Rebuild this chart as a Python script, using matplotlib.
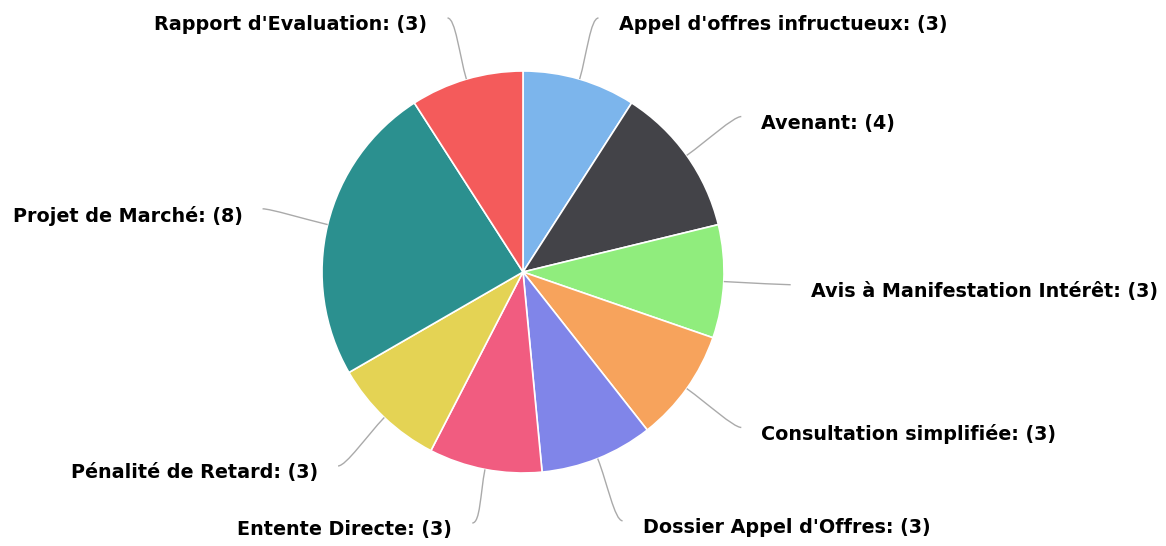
import numpy as np
from matplotlib import pyplot as plt
from matplotlib.path import Path
from matplotlib.patches import PathPatch

labels = ["Appel d'offres infructueux", "Avenant", "Avis à Manifestation Intérêt",
          "Consultation simplifiée", "Dossier Appel d'Offres", "Entente Directe",
          "Pénalité de Retard", "Projet de Marché", "Rapport d'Evaluation"]
values = [3, 4, 3, 3, 3, 3, 3, 8, 3]
colors = ["#7cb5ec", "#434348", "#90ed7d", "#f7a35c", "#8085e9",
          "#f15c80", "#e4d354", "#2b908f", "#f45b5b"]

W, H = 1166, 546
cx, cy, r = 523, 272, 201
dist = 268

fig = plt.figure(figsize=(W/100, H/100), dpi=100)
ax = fig.add_axes([0, 0, 1, 1])

ax.pie(values, colors=colors, startangle=90, counterclock=False,
       center=(cx, -cy), radius=r,
       wedgeprops=dict(edgecolor="white", linewidth=1.2))
ax.set_xlim(0, W)
ax.set_ylim(-H, 0)
ax.set_aspect("equal")
ax.axis("off")

total = float(sum(values))
cum = np.cumsum([0] + values)
for i, lab in enumerate(labels):
    mid = (cum[i] + cum[i+1]) / 2.0 / total * 2*np.pi   # clockwise from top
    s, c = np.sin(mid), np.cos(mid)
    x0, y0 = cx + r*s, cy - r*c            # touching slice
    x1, y1 = cx + dist*s, cy - dist*c      # label end
    y1 = min(max(y1, 18), H - 23)          # keep labels inside
    side = 1 if s >= 0 else -1
    xm, ym = cx + (r + 25)*s, cy - (r + 25)*c
    verts = [(x1, -y1), (x1 - side*8, -y1), (xm, -ym), (x0, -y0)]
    path = Path(verts, [Path.MOVETO, Path.CURVE4, Path.CURVE4, Path.CURVE4])
    ax.add_patch(PathPatch(path, fill=False, edgecolor="#aaaaaa", linewidth=1))
    ax.text(x1 + side*20, -(y1 + 7), "%s: (%d)" % (lab, values[i]),
            ha="left" if side > 0 else "right", va="center",
            fontsize=13.8, fontweight="bold", color="#000000")

fig.savefig("out.png", dpi=100)
